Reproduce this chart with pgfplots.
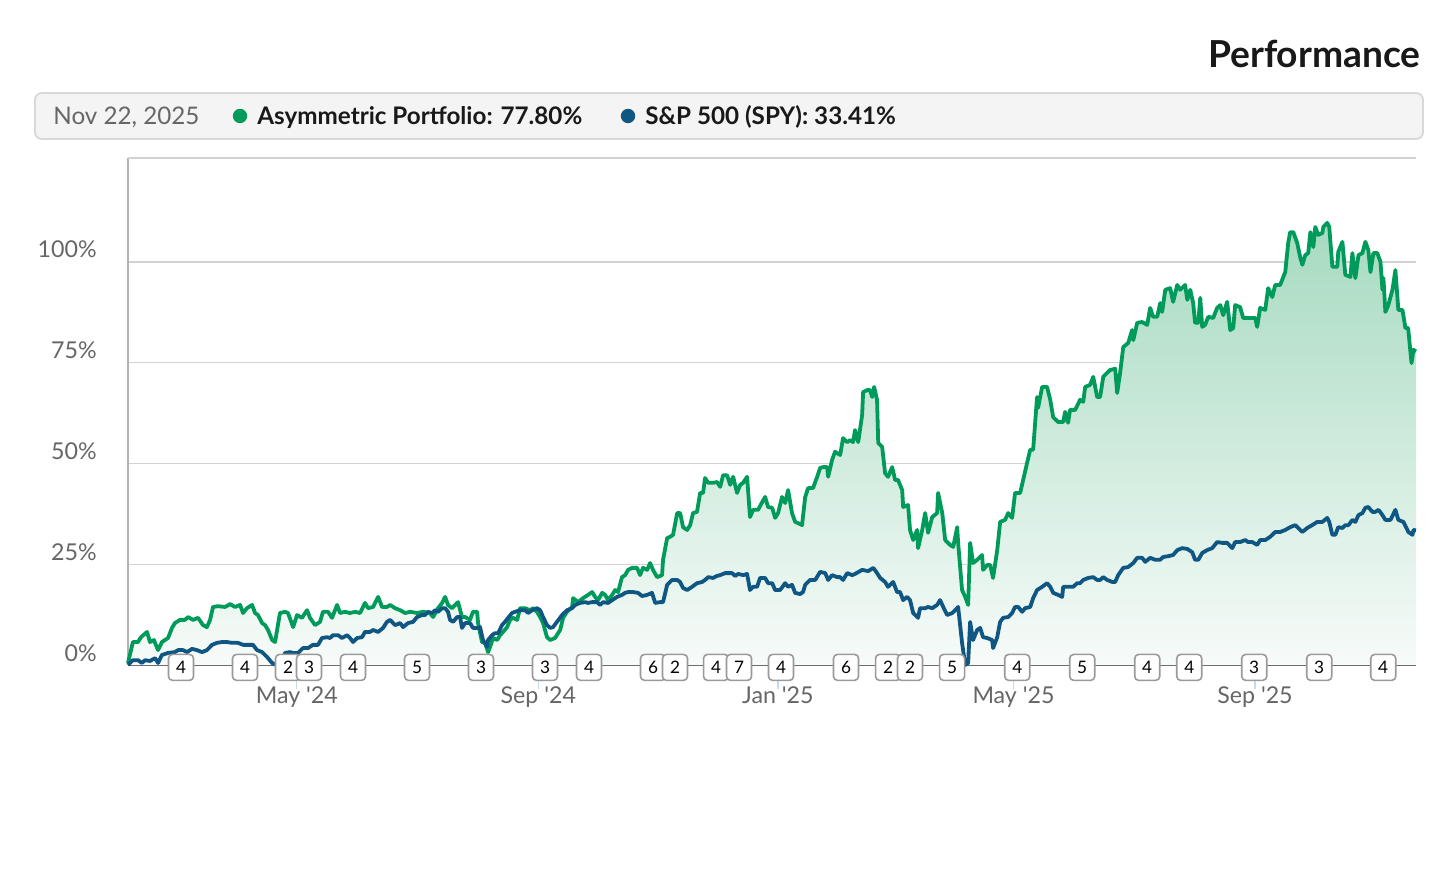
\documentclass[border=0pt]{standalone}
\usepackage{fontspec}
\setmainfont{Lato}
\usepackage{pgfplots}
\usepackage{pgfplotstable}
\pgfplotsset{compat=1.18}
\definecolor{pgreen}{HTML}{009A5B}
\definecolor{pblue}{HTML}{0F5683}
\definecolor{fillTop}{HTML}{A6DAC0}
\definecolor{fillBot}{HTML}{F7FBF9}
\definecolor{gridc}{HTML}{D2D2D2}
\definecolor{labc}{HTML}{666666}
\definecolor{boxc}{HTML}{9A9A9A}
\definecolor{legfill}{HTML}{F4F4F4}
\definecolor{legdraw}{HTML}{D8D8D8}
\definecolor{tickc}{HTML}{C5DAE8}

% x = days since 5 Feb 2024, y = cumulative return in %
\pgfplotstableread{
x y
0 0.5
2.5 5.7
5.1 5.7
6.6 6.9
9.7 8.2
11.2 5.7
13.2 6.2
15.3 3.7
17.3 5.7
20.4 6.7
22.4 9.2
23.9 10.4
26.5 11.2
29.0 11.2
30.6 11.9
33.1 11.2
35.7 11.7
38.2 9.9
40.2 9.4
41.8 11.2
43.3 14.4
45.8 14.6
49.4 14.4
52.0 15.1
54.5 14.4
57.1 14.9
58.6 12.9
60.6 14.1
63.2 14.9
64.7 12.9
66.2 12.4
68.3 10.4
69.8 9.9
71.3 8.7
73.4 6.2
74.9 5.7
77.4 12.9
80.0 13.2
81.5 12.9
84.1 9.4
86.1 12.4
88.6 11.7
91.2 13.6
92.7 11.7
95.3 9.9
97.8 10.7
99.3 13.2
101.9 13.2
103.9 11.7
106.5 14.9
108.0 12.9
110.5 13.2
113.1 12.9
115.6 13.2
118.2 12.9
120.7 15.4
122.3 14.1
124.8 14.4
127.4 16.9
129.4 14.4
131.9 14.4
133.5 14.9
136.0 14.1
138.6 13.6
141.1 12.9
143.7 13.2
147.2 12.9
150.3 13.2
153.8 12.9
155.4 11.9
157.9 14.1
160.0 15.4
161.5 16.9
163.0 14.9
165.0 14.1
166.6 14.9
168.1 15.6
170.1 11.9
171.7 11.9
174.2 11.2
175.7 13.2
177.8 13.2
178.3 10.4
180.3 5.7
181.9 5.5
183.4 3.2
184.4 4.5
185.9 6.7
188.0 6.2
189.5 7.4
191.0 8.2
193.1 9.4
194.6 11.2
196.1 11.7
198.2 11.2
199.7 14.1
202.2 14.1
204.8 13.6
206.3 14.1
208.3 13.2
209.9 11.9
211.4 10.4
213.4 6.9
215.0 6.2
217.5 6.7
220.1 8.7
221.6 11.7
223.6 13.2
226.2 14.4
226.7 16.6
229.2 15.6
231.8 16.6
234.3 17.4
236.4 18.1
237.9 16.9
239.4 16.1
241.5 17.9
243.0 17.4
244.5 16.1
246.6 17.4
248.1 18.6
249.6 18.1
251.6 21.8
253.2 22.3
254.7 23.6
256.7 24.1
259.3 24.1
260.8 22.3
262.3 24.1
264.4 23.6
265.9 25.3
267.4 23.6
269.5 21.8
272.0 22.3
272.5 26.1
274.6 31.5
276.1 31.8
277.6 32.3
279.7 37.7
281.2 37.7
282.7 34.2
284.8 33.5
286.3 34.7
287.8 37.7
289.8 38.0
291.4 42.7
292.9 42.7
293.9 46.4
295.5 45.2
298.0 45.2
300.0 45.4
301.6 44.2
303.1 47.1
305.1 47.1
306.7 44.7
308.2 46.7
310.2 42.7
311.8 44.7
313.3 45.2
315.3 46.7
316.8 36.7
318.4 38.5
320.9 38.5
323.0 40.4
324.5 41.7
326.0 39.2
328.1 39.0
329.6 36.5
331.1 37.7
333.1 41.7
334.7 40.2
336.2 43.4
338.2 37.7
339.8 35.5
341.3 35.2
343.3 34.7
344.9 41.7
346.4 43.9
348.9 43.9
351.0 46.7
352.5 48.9
354.0 49.1
356.1 49.1
356.6 46.7
358.6 50.9
360.1 52.9
362.7 52.1
364.2 56.3
366.3 55.3
367.8 55.8
369.3 55.3
370.3 58.3
371.9 55.3
373.9 62.0
374.4 67.7
376.4 68.2
378.0 68.2
379.0 66.5
380.0 69.0
381.5 65.8
382.1 55.1
384.1 54.1
385.6 47.6
387.1 46.7
389.2 49.1
390.7 45.9
392.2 45.9
394.3 43.4
394.8 39.2
397.3 39.7
398.3 33.5
399.9 31.0
401.9 33.5
402.4 29.0
404.5 33.5
406.0 37.7
407.5 32.8
409.6 36.7
412.1 37.7
412.6 42.7
414.7 37.7
416.2 31.0
418.7 29.8
420.3 29.3
422.3 34.2
422.8 30.3
424.8 18.6
426.4 16.9
427.9 14.9
428.9 30.3
430.4 25.3
432.5 26.1
435.0 27.3
435.5 23.6
437.6 24.8
439.1 24.8
440.6 21.6
442.7 28.5
444.2 35.5
446.7 36.0
448.3 37.7
450.3 36.5
451.8 42.7
454.4 42.7
455.9 45.9
457.9 50.1
459.5 53.4
461.0 53.4
463.0 66.5
463.5 63.8
465.6 69.0
468.1 69.0
469.7 65.8
471.2 61.5
473.7 60.3
476.3 60.3
477.3 62.8
478.8 60.1
479.8 63.3
482.4 63.3
484.9 65.8
486.5 65.3
487.5 69.0
490.0 69.5
491.6 71.5
493.6 66.5
495.1 66.5
496.7 71.5
498.7 72.5
500.2 73.2
502.8 73.5
503.8 67.5
505.3 72.5
506.9 78.9
509.4 79.9
511.4 83.1
512.0 80.6
514.0 84.9
516.5 85.1
519.1 84.4
520.6 88.6
522.1 86.4
524.2 86.4
525.7 89.8
526.7 87.6
528.3 93.1
530.8 93.5
532.3 90.1
534.4 94.3
535.9 93.1
538.4 94.3
539.5 90.6
541.0 93.1
542.5 89.8
543.5 84.9
545.1 84.9
546.1 91.1
547.1 83.9
548.6 84.4
550.2 86.4
552.7 86.1
554.7 88.6
556.3 89.3
557.8 86.8
559.8 90.1
561.4 83.1
562.9 83.6
563.9 89.3
566.4 88.8
568.0 86.1
570.0 86.1
572.6 86.1
574.1 86.1
575.1 83.9
576.6 88.6
579.2 88.1
580.7 93.5
582.8 91.3
584.3 94.3
586.8 94.3
589.4 97.5
590.9 104.7
591.9 107.4
593.5 107.4
595.5 104.7
597.0 101.2
598.1 99.3
599.6 101.7
601.1 102.2
602.2 107.4
603.7 103.7
604.7 108.7
606.2 106.7
608.3 107.2
608.8 108.7
610.8 109.7
611.8 108.7
613.4 98.8
615.9 98.8
616.4 102.5
618.5 105.0
620.0 96.8
622.6 96.3
623.6 102.2
625.1 96.0
626.7 101.7
628.7 102.2
630.2 105.0
631.7 103.0
632.8 97.5
634.3 102.2
636.3 102.2
637.9 100.0
638.9 93.1
639.4 96.0
640.4 87.6
641.9 89.3
644.0 93.1
645.5 98.0
647.0 88.1
649.1 88.1
650.6 83.6
652.0 83.6
653.7 74.9
654.7 78.2
656.0 77.8
}\greendata

\pgfplotstableread{
x y
0 0
2.5 1.2
5.1 1.2
7.1 0.5
8.7 1.2
11.2 1.0
13.8 1.7
15.3 0.5
17.3 2.5
20.4 3.0
23.9 3.2
25.5 3.7
28.0 3.7
30.1 3.2
32.6 4.0
35.1 3.7
37.7 3.2
40.2 3.7
42.8 5.0
45.3 5.5
47.9 5.7
50.4 5.7
53.0 5.5
56.0 5.5
58.6 5.0
61.1 5.0
63.7 5.0
65.7 3.7
68.3 3.2
70.8 2.0
73.4 0.5
75.4 0
77.9 0
80.0 3.0
82.5 3.2
84.1 3.0
86.6 3.0
89.1 4.2
91.7 4.2
94.2 5.0
96.8 5.0
98.8 6.7
101.4 6.9
102.9 6.7
104.4 7.4
107.0 7.4
109.0 6.7
111.6 7.4
113.1 6.7
114.6 5.7
116.7 6.7
119.2 6.9
120.7 8.2
123.3 8.2
124.8 8.7
127.4 8.2
129.9 9.2
131.9 10.7
133.5 11.2
136.0 9.9
138.6 10.4
140.1 9.4
142.6 10.4
145.2 10.7
147.2 11.9
149.8 12.4
151.3 12.4
152.8 13.2
154.9 12.9
156.4 13.6
157.9 13.2
160.0 14.1
161.5 14.1
163.0 13.2
164.0 11.2
165.6 10.7
167.6 11.9
169.1 11.9
170.1 9.2
171.7 10.4
174.2 10.4
175.7 9.2
177.8 9.2
179.3 9.4
180.8 6.2
182.9 4.5
183.4 6.2
185.4 7.4
186.9 7.9
188.5 7.9
190.5 9.9
192.0 10.7
193.6 11.7
195.6 12.9
197.1 13.2
199.7 13.6
202.2 13.6
203.8 12.9
205.8 13.6
208.3 14.1
209.9 13.6
211.4 11.9
213.4 9.9
215.0 9.2
216.5 9.4
218.5 10.7
221.1 12.4
223.6 13.6
226.2 14.1
227.7 14.9
230.2 15.4
232.8 15.6
234.3 15.4
236.4 15.6
238.9 15.6
240.4 14.9
242.0 15.6
244.5 15.4
246.6 16.1
249.1 16.9
251.6 17.4
253.2 17.9
254.7 18.1
257.2 18.1
259.8 17.9
261.8 17.1
264.4 17.4
266.9 17.9
268.5 15.4
271.0 15.6
272.5 15.6
274.6 19.9
277.1 21.1
279.7 21.1
281.2 20.6
282.7 19.1
284.8 18.6
287.3 19.4
289.8 20.3
292.4 20.6
293.9 21.1
295.5 21.8
298.0 21.6
300.0 22.1
301.6 22.3
304.1 22.8
305.7 22.8
307.7 22.8
309.2 22.1
310.8 22.6
313.3 22.3
315.3 22.6
316.8 18.6
318.4 19.4
320.4 19.4
321.9 21.6
324.5 21.6
326.0 20.3
328.1 20.3
329.6 18.6
332.1 18.6
334.7 20.3
336.2 19.4
338.2 19.9
339.8 17.9
342.3 17.6
343.8 18.1
344.9 19.9
347.4 21.1
350.0 21.1
352.5 23.1
355.1 22.8
356.6 21.1
358.6 22.3
361.2 21.8
362.7 21.8
364.2 21.1
366.3 22.8
368.8 22.3
370.3 22.6
373.9 23.6
377.0 23.3
379.6 24.1
381.5 22.8
383.1 21.6
385.6 20.6
387.1 19.4
389.7 20.6
391.7 18.1
393.2 18.1
394.8 16.1
396.8 16.9
398.3 16.1
399.9 12.9
402.4 11.7
403.4 14.1
406.0 14.1
407.5 14.4
409.6 14.1
412.1 14.9
413.6 16.1
415.2 14.4
417.2 12.4
419.8 12.9
421.3 13.6
422.8 14.4
424.8 5.5
426.4 0
427.9 0.5
428.9 10.7
430.4 6.2
432.5 8.7
434.0 9.2
435.5 6.9
437.6 6.7
440.1 6.2
440.6 4.2
442.7 6.9
444.2 10.7
445.7 11.7
448.3 11.9
450.3 12.9
451.8 14.4
453.4 14.4
455.4 13.2
456.9 14.1
459.5 14.4
461.0 16.6
463.0 18.6
465.6 19.4
468.1 20.3
469.7 19.4
471.2 17.9
473.7 17.4
475.8 16.9
476.3 19.4
478.8 19.4
481.4 19.4
483.4 20.3
484.9 20.3
486.5 21.1
489.0 21.6
491.6 21.8
493.6 21.1
495.1 21.1
496.7 21.8
498.7 21.1
501.3 20.6
502.8 20.6
504.3 22.3
506.9 24.1
509.4 24.3
512.0 25.3
514.0 26.6
516.5 26.6
518.1 25.6
520.6 26.6
523.2 26.1
525.7 26.1
527.2 26.8
529.8 27.0
532.3 27.3
534.4 28.5
536.9 29.0
539.5 28.8
542.0 28.0
543.5 26.1
545.1 26.1
547.1 27.8
549.6 28.5
552.2 29.0
554.7 30.5
557.3 30.3
559.8 30.3
562.4 29.0
563.9 30.5
566.4 30.5
569.0 31.0
570.5 30.5
572.6 30.5
575.1 29.8
576.6 31.0
579.2 31.0
581.7 31.8
584.3 33.0
586.8 33.0
589.4 33.5
591.9 34.2
594.5 34.7
596.0 34.0
598.1 33.0
600.6 34.0
603.1 34.7
605.7 35.5
608.3 35.5
610.8 36.5
611.8 35.5
613.4 32.3
614.9 32.3
616.4 34.2
618.5 34.0
620.0 34.7
621.6 34.7
623.6 36.0
625.1 35.5
626.7 37.2
628.7 37.7
630.2 39.0
631.7 39.2
633.8 38.0
635.3 38.0
636.9 38.5
638.9 37.2
640.4 36.0
643.0 36.0
645.5 38.5
647.0 36.0
649.6 35.5
652.1 33.0
654.2 32.3
654.7 33.5
656.0 33.4
}\bluedata

\pgfplotstableread{
x y label
27.0 0 4
59.6 0 4
81.5 0 2
92.2 0 3
114.6 0 4
147.2 0 5
179.8 0 3
212.4 0 3
234.8 0 4
267.4 0 6
278.6 0 2
299.5 0 4
311.2 0 7
332.6 0 4
365.7 0 6
387.1 0 2
398.3 0 2
419.7 0 5
452.9 0 4
486.0 0 5
519.1 0 4
540.5 0 4
573.6 0 3
606.7 0 3
639.3 0 4
}\markerdata

\begin{document}
\begin{tikzpicture}[x=1pt,y=1pt]
\useasboundingbox (-64,-114.5) rectangle (663,332.5);
% header
\node[anchor=base east, inner sep=0pt, font=\bfseries\fontsize{18.6}{18.6}\selectfont, text=black!90] at (646.5,298.5) {Performance};
\draw[draw=legdraw, fill=legfill, rounded corners=3.5pt, line width=0.9pt] (-46.5,263) rectangle (647.5,286);
\node[anchor=base west, inner sep=0pt, text=labc, font=\fontsize{12.1}{12.1}\selectfont] at (-37.5,270.3) {Nov 22, 2025};
\fill[pgreen] (56,274.5) circle (3.6);
\node[anchor=base west, inner sep=0pt, text=black!90, font=\bfseries\fontsize{12.1}{12.1}\selectfont] at (64.5,270.3) {Asymmetric Portfolio: 77.80\%};
\fill[pblue] (250,274.5) circle (3.6);
\node[anchor=base west, inner sep=0pt, text=black!90, font=\bfseries\fontsize{12.1}{12.1}\selectfont] at (258.5,270.3) {S\&P 500 (SPY): 33.41\%};

\begin{axis}[
  at={(0,0)}, anchor=south west,
  scale only axis, width=644pt, height=253.5pt,
  xmin=0, xmax=656, ymin=0, ymax=125.8,
  clip=false,
  axis x line=bottom, axis y line=left,
  axis line style={-},
  x axis line style={draw=black!65, line width=0.8pt},
  y axis line style={draw=black!30, line width=0.6pt},
  ytick={0,25,50,75,100},
  yticklabels={0\%,25\%,50\%,75\%,100\%},
  extra y ticks={125.8},
  extra y tick labels={},
  ymajorgrids,
  major grid style={draw=gridc, line width=0.6pt},
  y tick style={draw=none},
  extra y tick style={grid=major, tick style={draw=none}},
  xtick={86,209,331,451,574},
  xticklabels={May \textquotesingle24,Sep \textquotesingle24,Jan \textquotesingle25,May \textquotesingle25,Sep \textquotesingle25},
  tick align=inside,
  major tick length=12pt,
  x tick style={draw=tickc, line width=0.6pt, yshift=-12pt},
  ticklabel style={font=\fontsize{11.6}{11.6}\selectfont, text=labc},
  xticklabel style={anchor=base, inner sep=0pt, yshift=-19.3pt},
  yticklabel style={anchor=base east, inner sep=0pt, xshift=-15.5pt, yshift=2pt},
]
\addplot[draw=none, top color=fillTop, bottom color=fillBot] table[x=x,y=y] {\greendata} \closedcycle;
\addplot[pgreen, line width=1.9pt, line join=round, mark=none] table[x=x,y=y] {\greendata};
\addplot[pblue, line width=1.9pt, line join=round, mark=none] table[x=x,y=y] {\bluedata};
\addplot[draw=none, mark=none, nodes near coords, point meta=explicit symbolic,
  every node near coord/.append style={anchor=center, draw=boxc, fill=white, line width=0.8pt,
    rounded corners=2pt, minimum width=12.5pt, minimum height=13pt, inner sep=0pt,
    text=black, font=\fontsize{8.6}{8.6}\selectfont, yshift=-1.2pt}]
  table[x=x,y=y,meta=label] {\markerdata};
\end{axis}
\end{tikzpicture}
\end{document}
